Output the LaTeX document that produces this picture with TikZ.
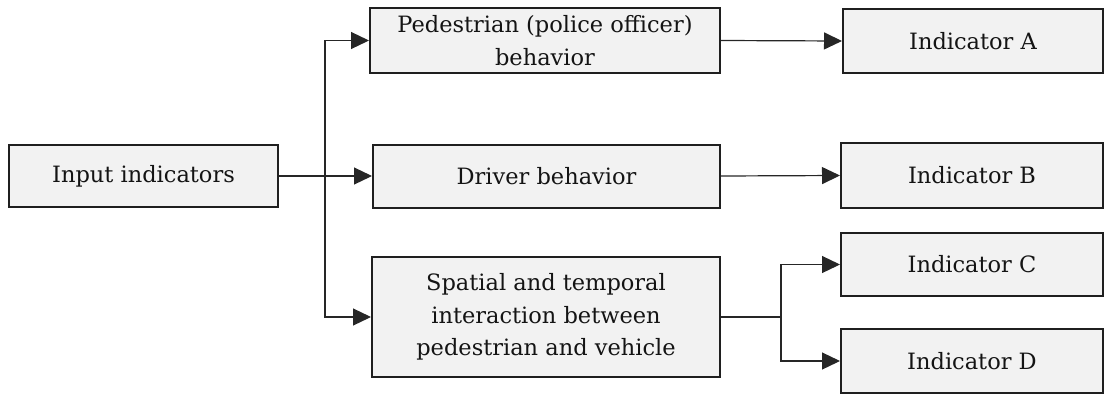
\documentclass[tikz,border=0pt]{standalone}
\usepackage{fontspec}
\setmainfont{DejaVu Serif}
\usetikzlibrary{arrows.meta}
\begin{document}
\begin{tikzpicture}[x=1pt,y=-1pt,
  box/.style={draw=black!88, line width=2pt, fill=black!5, text=black!92,
    align=center, inner sep=0pt, font=\fontsize{22.5}{32.5}\selectfont},
  link/.style={line width=1.2pt, draw=black!85,
    -{Triangle[length=18pt 0 0,width=17pt 0 0]}},
  plain/.style={line width=1.2pt, draw=black!85}]
\useasboundingbox (0,0) rectangle (1105,394);

% source and middle column
\node[box, minimum width=269pt, minimum height=62pt] (inp) at (143.5,176) {Input indicators};
\node[box, minimum width=350pt, minimum height=65pt] (ped) at (545,40.5) {Pedestrian (police officer)\\behavior};
\node[box, minimum width=347pt, minimum height=63pt] (drv) at (546.5,176) {Driver behavior};
\node[box, minimum width=348pt, minimum height=120pt] (spa) at (546,317) {Spatial and temporal\\interaction between\\pedestrian and vehicle};

% indicator column
\node[box, minimum width=260pt, minimum height=64pt] (ia) at (973,41) {Indicator A};
\node[box, minimum width=262pt, minimum height=65pt] (ib) at (972,175.5) {Indicator B};
\node[box, minimum width=262pt, minimum height=63pt] (ic) at (972,264.5) {Indicator C};
\node[box, minimum width=262pt, minimum height=64pt] (id) at (972,361) {Indicator D};

% branching points
\coordinate (s1) at (325,176);
\coordinate (s2) at (781,317);

% connectors
\draw[plain] (inp.east) -- (s1);
\draw[link] (s1) |- (ped.west);
\draw[link] (s1) -- (drv.west);
\draw[link] (s1) |- (spa.west);
\draw[link] (ped.east) -- (ia.west);
\draw[link] (drv.east) -- (ib.west);
\draw[plain] (spa.east) -- (s2);
\draw[link] (s2) |- (ic.west);
\draw[link] (s2) |- (id.west);
\end{tikzpicture}
\end{document}
